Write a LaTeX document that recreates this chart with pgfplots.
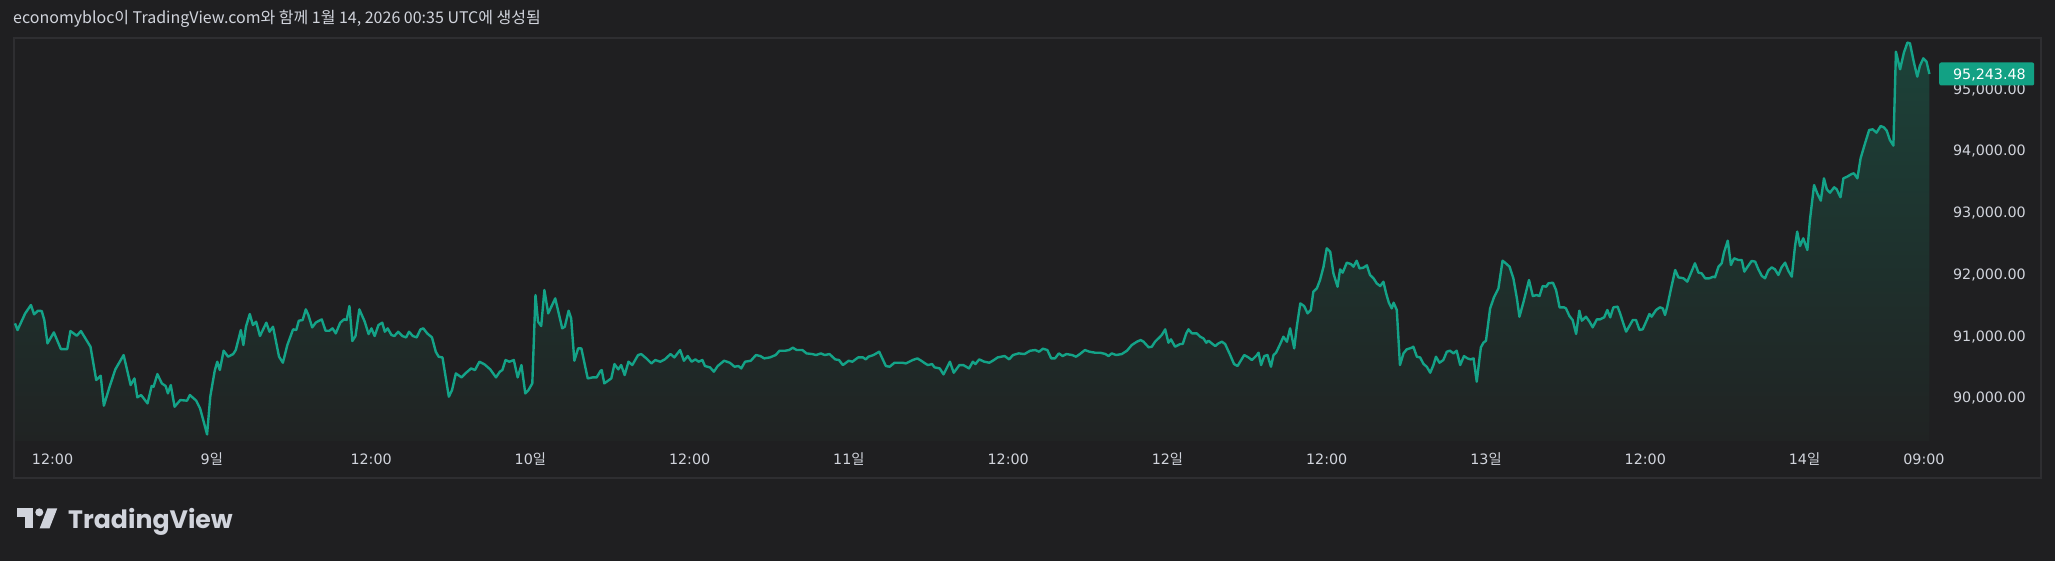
\documentclass[border=0pt]{standalone}
\usepackage{pgfplots}
\pgfplotsset{compat=1.18}
\usepackage{pgfplotstable}
\usepackage{fontspec}
\setmainfont{DejaVu Sans}
\newfontfamily\kr{Noto Sans CJK KR}
\newfontfamily\logofont{Poppins}

\definecolor{tvbg}{RGB}{31,31,33}
\definecolor{tvframe}{RGB}{46,46,49}
\definecolor{tvtxt}{RGB}{209,212,220}
\definecolor{tvline}{RGB}{20,163,136}
\definecolor{tvtag}{RGB}{18,161,132}
\definecolor{filltop}{RGB}{28,66,57}
\definecolor{fillbot}{RGB}{32,35,35}

% BTC/USD, 8-14 Jan, x in days (KST), y in USD
\pgfplotstableread{
day price
8.382 91204
8.390 91096
8.414 91366
8.432 91501
8.442 91350
8.454 91409
8.466 91404
8.474 91258
8.484 90880
8.504 91058
8.526 90788
8.546 90788
8.556 91080
8.576 91004
8.589 91080
8.603 90961
8.619 90826
8.637 90286
8.651 90356
8.661 89871
8.679 90178
8.697 90459
8.723 90691
8.745 90205
8.757 90313
8.766 90006
8.778 90043
8.798 89908
8.811 90189
8.817 90178
8.829 90383
8.843 90232
8.855 90189
8.862 90070
8.871 90205
8.883 89854
8.901 89962
8.922 89952
8.931 90043
8.943 89989
8.951 89952
8.963 89827
8.973 89638
8.985 89406
8.995 90016
9.009 90437
9.017 90583
9.025 90448
9.037 90761
9.051 90664
9.067 90707
9.075 90772
9.091 91096
9.099 90853
9.107 91150
9.119 91355
9.129 91177
9.139 91231
9.151 90999
9.171 91215
9.181 91069
9.192 91150
9.211 90664
9.223 90567
9.237 90853
9.255 91107
9.265 91096
9.273 91247
9.285 91258
9.295 91431
9.303 91339
9.315 91139
9.327 91220
9.345 91269
9.357 91085
9.369 91085
9.379 91123
9.389 91042
9.403 91215
9.415 91269
9.423 91258
9.432 91485
9.441 90918
9.451 90999
9.463 91431
9.480 91231
9.492 91031
9.501 91123
9.511 90999
9.523 91177
9.535 91215
9.543 91069
9.552 91123
9.564 91015
9.573 90999
9.585 91069
9.598 90999
9.610 90977
9.619 91069
9.631 90999
9.643 90977
9.655 91107
9.664 91123
9.676 91042
9.691 90977
9.703 90745
9.712 90664
9.724 90653
9.744 90016
9.754 90124
9.766 90394
9.784 90329
9.796 90394
9.814 90475
9.826 90448
9.840 90583
9.856 90540
9.874 90459
9.892 90329
9.904 90421
9.912 90448
9.922 90610
9.934 90583
9.948 90610
9.960 90329
9.972 90529
9.984 90070
9.994 90124
10.006 90232
10.016 91663
10.024 91231
10.034 91161
10.044 91744
10.056 91366
10.078 91609
10.100 91123
10.108 91150
10.120 91409
10.128 91285
10.138 90599
10.150 90799
10.160 90799
10.180 90313
10.196 90329
10.208 90329
10.220 90432
10.224 90448
10.232 90232
10.254 90313
10.264 90545
10.276 90459
10.285 90529
10.296 90367
10.308 90583
10.320 90529
10.338 90691
10.348 90707
10.364 90637
10.380 90556
10.392 90610
10.408 90583
10.422 90621
10.440 90707
10.452 90653
10.470 90772
10.482 90599
10.494 90675
10.506 90583
10.518 90621
10.528 90583
10.540 90610
10.548 90513
10.564 90491
10.576 90421
10.588 90513
10.608 90599
10.626 90567
10.641 90502
10.653 90513
10.662 90475
10.674 90583
10.692 90599
10.708 90691
10.722 90675
10.734 90637
10.752 90653
10.770 90691
10.782 90761
10.800 90761
10.812 90772
10.824 90810
10.836 90772
10.854 90772
10.867 90718
10.885 90707
10.897 90691
10.912 90718
10.924 90691
10.939 90707
10.957 90621
10.969 90610
10.981 90529
10.999 90599
11.011 90583
11.029 90653
11.044 90653
11.053 90621
11.061 90664
11.077 90691
11.095 90745
11.116 90513
11.128 90502
11.143 90567
11.167 90567
11.179 90556
11.200 90610
11.215 90637
11.227 90599
11.239 90556
11.248 90529
11.261 90545
11.269 90491
11.285 90475
11.297 90378
11.317 90583
11.329 90405
11.347 90529
11.359 90529
11.377 90475
11.389 90583
11.397 90545
11.409 90621
11.425 90583
11.441 90567
11.455 90610
11.467 90653
11.489 90675
11.503 90621
11.515 90691
11.533 90718
11.551 90707
11.569 90761
11.585 90772
11.597 90745
11.609 90794
11.623 90772
11.635 90637
11.647 90637
11.659 90718
11.671 90675
11.683 90707
11.701 90691
11.713 90664
11.725 90707
11.741 90772
11.755 90745
11.773 90729
11.789 90729
11.805 90708
11.815 90675
11.825 90718
11.839 90691
11.857 90708
11.873 90762
11.888 90853
11.904 90907
11.916 90934
11.925 90907
11.941 90816
11.951 90826
11.961 90907
11.975 90978
11.982 91015
11.993 91107
12.003 90891
12.011 90945
12.024 90826
12.040 90870
12.048 90870
12.059 91042
12.066 91107
12.077 91042
12.092 91042
12.103 90988
12.113 90961
12.122 90891
12.129 90924
12.139 90880
12.150 90837
12.160 90880
12.171 90907
12.181 90870
12.197 90691
12.209 90546
12.220 90513
12.241 90691
12.254 90654
12.265 90610
12.281 90691
12.286 90729
12.294 90529
12.304 90675
12.314 90691
12.325 90502
12.333 90691
12.341 90729
12.354 90870
12.364 90988
12.375 90907
12.385 91123
12.398 90799
12.406 91150
12.417 91528
12.429 91485
12.440 91366
12.450 91420
12.458 91717
12.469 91771
12.479 91906
12.490 92122
12.500 92419
12.511 92365
12.521 92014
12.534 91798
12.542 92079
12.550 92025
12.563 92187
12.576 92165
12.584 92122
12.594 92219
12.603 92095
12.615 92106
12.626 92144
12.636 91987
12.647 91933
12.657 91852
12.668 91809
12.678 91879
12.686 91701
12.695 91539
12.704 91447
12.710 91539
12.720 91420
12.730 90529
12.741 90718
12.751 90783
12.767 90810
12.772 90826
12.783 90664
12.793 90654
12.804 90546
12.814 90502
12.825 90405
12.835 90529
12.843 90664
12.854 90567
12.866 90610
12.877 90745
12.887 90762
12.898 90718
12.908 90762
12.919 90529
12.931 90675
12.942 90637
12.952 90621
12.961 90637
12.971 90259
12.979 90610
12.984 90816
12.992 90891
13.000 90924
13.013 91447
13.025 91625
13.039 91771
13.052 92219
13.060 92187
13.074 92122
13.086 91933
13.097 91609
13.105 91312
13.118 91555
13.135 91906
13.147 91647
13.159 91663
13.168 91647
13.178 91809
13.189 91798
13.196 91852
13.210 91863
13.220 91744
13.231 91463
13.245 91463
13.251 91447
13.262 91323
13.272 91258
13.283 91032
13.293 91409
13.301 91248
13.314 91312
13.325 91231
13.335 91140
13.348 91269
13.358 91269
13.371 91302
13.381 91421
13.390 91302
13.400 91464
13.413 91475
13.421 91367
13.431 91205
13.440 91070
13.452 91178
13.461 91259
13.471 91259
13.482 91097
13.492 91108
13.505 91259
13.513 91356
13.520 91313
13.534 91421
13.546 91464
13.555 91448
13.562 91340
13.569 91475
13.580 91745
13.594 92069
13.604 91950
13.620 91934
13.632 91880
13.643 92015
13.656 92177
13.667 92026
13.677 92015
13.688 91934
13.701 91934
13.714 91961
13.719 91950
13.730 92123
13.740 92177
13.747 92349
13.759 92544
13.769 92150
13.779 92258
13.792 92231
13.803 92231
13.811 92042
13.820 92112
13.834 92215
13.845 92204
13.855 92080
13.866 91972
13.876 91934
13.886 92058
13.897 92112
13.907 92080
13.918 91988
13.928 92112
13.939 92187
13.949 92058
13.960 91961
13.970 92447
13.977 92690
13.986 92457
13.996 92582
14.009 92393
14.017 92879
14.030 93445
14.040 93310
14.051 93192
14.061 93553
14.070 93375
14.080 93321
14.093 93408
14.101 93375
14.113 93246
14.122 93553
14.134 93580
14.148 93624
14.155 93634
14.166 93553
14.176 93877
14.190 94120
14.203 94336
14.214 94347
14.226 94293
14.239 94401
14.249 94379
14.258 94326
14.268 94174
14.279 94083
14.287 95605
14.300 95319
14.312 95589
14.323 95751
14.331 95740
14.344 95416
14.354 95200
14.362 95373
14.373 95497
14.383 95443
14.392 95243.48
}\pricedata

\begin{document}
\begin{tikzpicture}
\fill[tvbg] (0pt,0pt) rectangle (2055pt,561pt);
\path[use as bounding box] (0pt,0pt) rectangle (2055pt,561pt);
\draw[tvframe, line width=2pt] (14pt,523pt) rectangle (2041pt,83pt);

\node[anchor=base west, inner sep=0, text=tvtxt, font=\kr\fontsize{16}{19}\selectfont]
  at (13pt,537pt) {economybloc이 TradingView.com와 함께 1월 14, 2026 00:35 UTC에 생성됨};

% logo
\fill[tvtxt] (16.7pt,52.7pt) rectangle (33pt,44.3pt);
\fill[tvtxt] (24.5pt,52.7pt) rectangle (33pt,32.7pt);
\fill[tvtxt] (39.3pt,48.7pt) circle (4pt);
\fill[tvtxt] (47.5pt,52.7pt) -- (57.3pt,52.7pt) -- (49.5pt,32.7pt) -- (39.7pt,32.7pt) -- cycle;
\node[anchor=base west, inner sep=0, text=tvtxt, font=\logofont\bfseries\fontsize{25.2}{28}\selectfont]
  at (68pt,32.7pt) {TradingView};

\begin{axis}[
  name=ax,
  at={(15pt,120pt)}, anchor=south west,
  scale only axis, width=1922pt, height=402pt,
  xmin=8.382, xmax=14.416, ymin=89299, ymax=95810,
  axis line style={draw=none}, tick style={draw=none},
  scaled x ticks=false, scaled y ticks=false,
  clip=false,
  xtick={8.5,9,9.5,10,10.5,11,11.5,12,12.5,13,13.5,14,14.375},
  xticklabels={12:00,9{\kr 일},12:00,10{\kr 일},12:00,11{\kr 일},12:00,12{\kr 일},12:00,13{\kr 일},12:00,14{\kr 일},09:00},
  ytick={90000,91000,92000,93000,94000,95000},
  yticklabels={{90,000.00},{91,000.00},{92,000.00},{93,000.00},{94,000.00},{95,000.00}},
  yticklabel pos=right,
  ticklabel style={font=\fontsize{14.3}{16}\selectfont, text=tvtxt, inner sep=0pt},
  xticklabel style={anchor=base, yshift=-24pt},
  yticklabel style={anchor=base east, xshift=89pt, yshift=-5.2pt},
]
\addplot[draw=none, top color=filltop, bottom color=fillbot, forget plot]
  table[x=day, y=price] {\pricedata} |- (axis cs:8.382,89299) -- cycle;
\addplot[color=tvline, line width=2.4pt, mark=none, line join=round]
  table[x=day, y=price] {\pricedata};
\coordinate (last) at (axis cs:14.416,95243.48);
\end{axis}

\node[fill=tvtag, minimum width=95pt, minimum height=23pt, inner sep=0, anchor=west,
  rounded corners=2pt, xshift=2pt] at (last) {};
\node[anchor=base east, inner sep=0, text=white, font=\fontsize{14.3}{16}\selectfont,
  xshift=89pt, yshift=-5.2pt] at (last) {95,243.48};
\end{tikzpicture}
\end{document}
